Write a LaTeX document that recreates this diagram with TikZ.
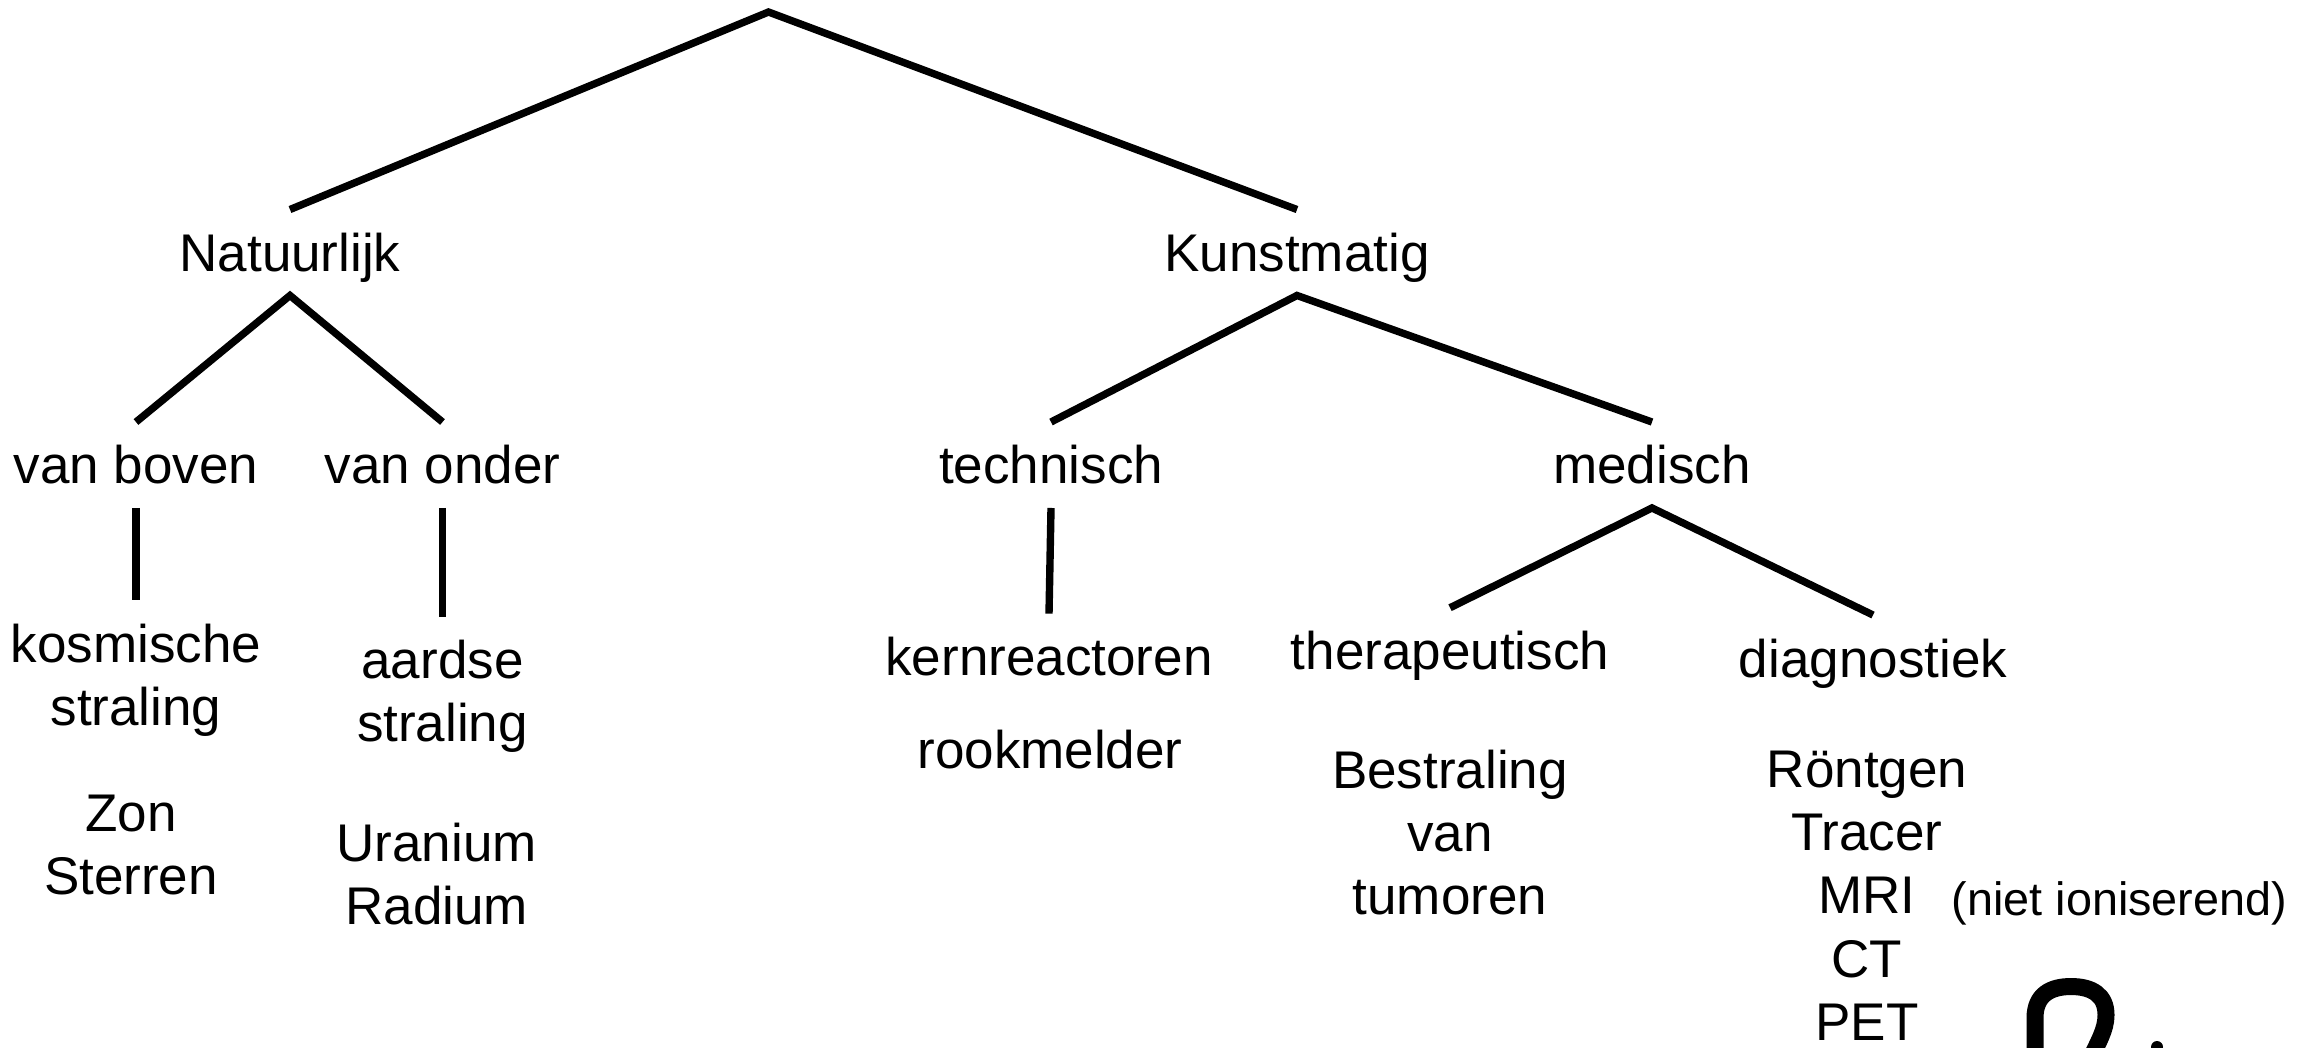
\documentclass[tikz,border=0pt]{standalone}
\usepackage{fontspec}
\setmainfont{Liberation Sans}
\begin{document}
\begin{tikzpicture}[x=0.01cm,y=-0.01cm]
\tikzset{
  lbl/.style={font=\fontsize{15.08pt}{18pt}\selectfont, inner xsep=0pt},
  parentnode/.style={lbl, anchor=north, text height=0.375cm, text depth=0pt, inner ysep=0.235cm},
  leafnode/.style={lbl, align=center, anchor=north, inner ysep=0.23cm},
  textnode/.style={lbl, align=center, anchor=north, inner sep=0pt},
  conn/.style={line width=2.1pt},
  glyph/.style={line width=0.17cm}
}
\useasboundingbox (0,0) rectangle (2313,1047);

\coordinate (root) at (768.5,12);
\node[parentnode] (nat) at (290,209.5) {Natuurlijk};
\node[parentnode] (kun) at (1297,209.5) {Kunstmatig};
\node[parentnode] (vb) at (136,422) {van boven};
\node[parentnode] (vo) at (442.5,422) {van onder};
\node[parentnode] (tech) at (1051,422) {technisch};
\node[parentnode] (med) at (1652,422) {medisch};

\node[leafnode] (kos) at (136,600) {kosmische\\straling};
\node[leafnode] (aard) at (442.5,616.5) {aardse\\straling};
\node[leafnode] (kern) at (1049,613.6) {kernreactoren};
\node[leafnode] (ther) at (1450,607.7) {therapeutisch};
\node[leafnode] (diag) at (1873,615) {diagnostiek};

\node[textnode] (zon) at (131,794) {Zon\\Sterren};
\node[textnode] (uran) at (436.6,822) {Uranium\\Radium};
\node[textnode] (rook) at (1050,729) {rookmelder};
\node[textnode] (bestr) at (1450,749) {Bestraling\\van\\tumoren};
\node[textnode] (rontgen) at (1867,750) {Röntgen\\Tracer\\MRI\\CT\\PET};
\node[font=\fontsize{13.3pt}{16pt}\selectfont, anchor=base west, inner sep=0pt] (niet) at (1951,915) {(niet ioniserend)};

\draw[conn] (nat.north) -- (root) -- (kun.north);
\draw[conn] (vb.north) -- (nat.south) -- (vo.north);
\draw[conn] (tech.north) -- (kun.south) -- (med.north);
\draw[conn] (vb.south) -- (kos.north);
\draw[conn] (vo.south) -- (aard.north);
\draw[conn] (tech.south) -- (kern.north);
\draw[conn] (ther.north) -- (med.south) -- (diag.north);

\begin{scope}
\clip (0,0) rectangle (2313,1047);
\draw[glyph] (2035,1060) -- (2035,1018) .. controls (2035,995) and (2050,986.5) .. (2071,986.5) .. controls (2092,986.5) and (2106,995) .. (2106,1015) .. controls (2106,1030) and (2098,1042) .. (2090,1060);
\fill (2157,1047) circle (6);
\end{scope}
\end{tikzpicture}
\end{document}
